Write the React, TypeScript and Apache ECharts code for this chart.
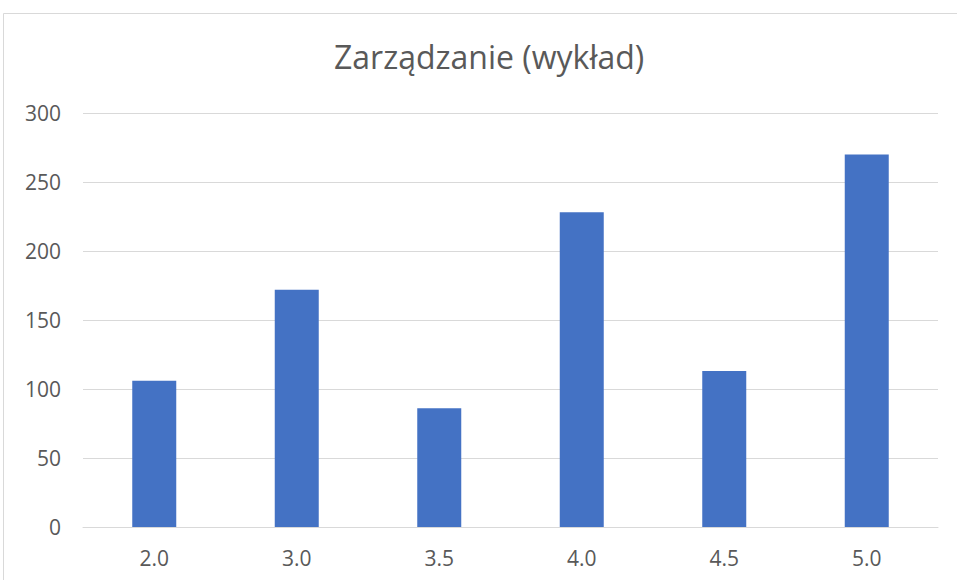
import React, { useEffect, useRef } from "react";
import * as echarts from "echarts";

const categories = ["2.0", "3.0", "3.5", "4.0", "4.5", "5.0"];
const values = [106, 172, 86, 228, 113, 270];
const titleText = "Zarządzanie (wykład)";

export default function App() {
  const ref = useRef<HTMLDivElement>(null);
  useEffect(() => {
    document.body.style.margin = "0";
    const chart = echarts.init(ref.current!, null, { renderer: "svg" });
    chart.setOption({
      animation: false,
      backgroundColor: "#ffffff",
      title: {
        text: titleText,
        left: 329,
        top: 35,
        textStyle: {
          fontFamily: "Open Sans",
          fontSize: 32,
          fontWeight: "normal",
          color: "#595959",
        },
      },
      graphic: [
        {
          type: "rect",
          shape: { x: 3.5, y: 13.5, width: 1000, height: 600 },
          style: { fill: "none", stroke: "#D9D9D9", lineWidth: 1 },
          silent: true,
        },
      ],
      grid: { left: 83, right: 19, top: 113, bottom: 53 },
      xAxis: {
        type: "category",
        data: categories,
        axisLine: { lineStyle: { color: "#D9D9D9", width: 1 } },
        axisTick: { show: false },
        axisLabel: {
          fontFamily: "Open Sans",
          fontSize: 21,
          color: "#595959",
          margin: 20,
        },
      },
      yAxis: {
        type: "value",
        min: 0,
        max: 300,
        interval: 50,
        axisLine: { show: false },
        axisTick: { show: false },
        splitLine: { lineStyle: { color: "#D9D9D9", width: 1 } },
        axisLabel: {
          fontFamily: "Open Sans",
          fontSize: 21,
          color: "#595959",
          margin: 22,
        },
      },
      series: [
        {
          type: "bar",
          data: values,
          barWidth: 44,
          itemStyle: { color: "#4472C4" },
        },
      ],
    });
    return () => chart.dispose();
  }, []);
  return (
    <div
      ref={ref}
      style={{ position: "fixed", left: 0, top: 0, width: 957, height: 580 }}
    />
  );
}
